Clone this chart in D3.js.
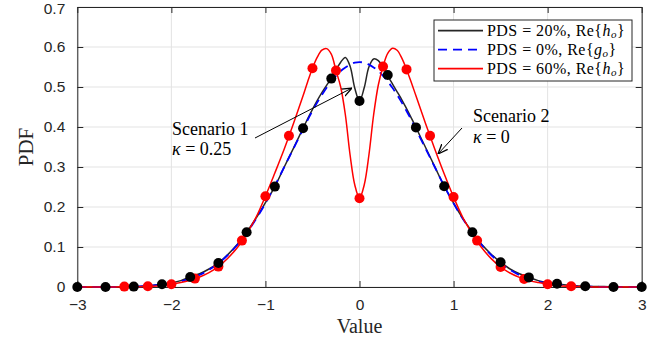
<!DOCTYPE html>
<html><head><meta charset="utf-8">
<script src="https://cdn.jsdelivr.net/npm/d3@7"></script>
<style>body{margin:0;background:#fff}</style>
</head><body>
<script>
// ---- data ----
const xGrid = [-3,-2.9,-2.8,-2.7,-2.6,-2.5,-2.4,-2.3,-2.2,-2.1,-2,-1.9,-1.8,-1.7,-1.6,-1.5,-1.4,-1.3,-1.2,-1.1,-1,-0.9,-0.8,-0.7,-0.6,
  -0.55,-0.5,-0.45,-0.4,-0.35,-0.3,-0.25,-0.2,-0.15,-0.1,-0.05,0,0.05,0.1,0.15,0.2,0.25,0.3,0.35,0.4,0.45,0.5,0.55,
  0.6,0.7,0.8,0.9,1,1.1,1.2,1.3,1.4,1.5,1.6,1.7,1.8,1.9,2,2.1,2.2,2.3,2.4,2.5,2.6,2.7,2.8,2.9,3];
const pds20 = [0,0,0,0,0,0.001,0.001,0.002,0.004,0.007,0.010,0.016,0.025,0.033,0.045,0.060,0.081,0.106,0.137,0.172,0.211,0.251,0.300,0.348,0.397,
  0.421,0.444,0.466,0.486,0.504,0.521,0.542,0.562,0.574,0.552,0.497,0.465,0.498,0.550,0.570,0.566,0.549,0.528,0.508,0.488,0.468,0.446,0.423,
  0.399,0.350,0.301,0.252,0.210,0.171,0.137,0.106,0.082,0.062,0.045,0.033,0.024,0.016,0.011,0.008,0.005,0.003,0.002,0.001,0.001,0,0,0,0];
const pds0 = [0,0,0,0,0,0.001,0.001,0.002,0.004,0.006,0.009,0.014,0.021,0.030,0.043,0.059,0.080,0.105,0.135,0.170,0.209,0.253,0.300,0.347,0.394,
  0.418,0.440,0.461,0.480,0.498,0.514,0.528,0.540,0.549,0.556,0.561,0.562,0.561,0.556,0.549,0.540,0.528,0.514,0.498,0.480,0.461,0.440,0.418,
  0.394,0.347,0.300,0.253,0.209,0.170,0.135,0.105,0.080,0.059,0.043,0.030,0.021,0.014,0.009,0.006,0.004,0.002,0.001,0.001,0,0,0,0,0];
const pds60 = [0,0,0,0,0,0.001,0.001,0.001,0.002,0.004,0.007,0.011,0.017,0.025,0.036,0.051,0.072,0.098,0.133,0.174,0.227,0.285,0.345,0.410,0.478,
  0.514,0.547,0.574,0.592,0.596,0.582,0.541,0.500,0.430,0.330,0.255,0.222,0.255,0.330,0.430,0.505,0.551,0.584,0.597,0.592,0.572,0.544,0.512,
  0.478,0.410,0.345,0.283,0.225,0.173,0.133,0.098,0.071,0.050,0.035,0.024,0.016,0.011,0.007,0.004,0.002,0.001,0.001,0,0,0,0,0,0];
const markX20 = [-3,-2.7,-2.4,-2.1,-1.8,-1.5,-1.2,-0.9,-0.6,-0.3,0,0.3,0.6,0.9,1.2,1.5,1.8,2.1,2.4,2.7,3];
const markY20 = [0,0,0.001,0.007,0.025,0.060,0.137,0.251,0.397,0.521,0.465,0.530,0.399,0.252,0.137,0.062,0.024,0.008,0.002,0,0];
const markX60 = [-2.5,-2.25,-2,-1.75,-1.5,-1.25,-1,-0.75,-0.5,-0.25,0,0.25,0.5,0.75,1,1.25,1.5,1.75,2,2.25];
const markY60 = [0.001,0.002,0.007,0.021,0.051,0.116,0.227,0.378,0.547,0.541,0.222,0.551,0.544,0.378,0.225,0.116,0.050,0.020,0.007,0.002];
const xTicks = [-3,-2,-1,0,1,2,3];
const yTicks = [0,0.1,0.2,0.3,0.4,0.5,0.6,0.7];

// ---- layout ----
const W = 669, H = 341;
const L = 77.3, R = 641.7, T = 7, B = 287;
const x = d3.scaleLinear().domain([-3,3]).range([L,R]);
const y = d3.scaleLinear().domain([0,0.7]).range([B,T]);
const axisCol = '#262626';

const svg = d3.select('body').append('svg').attr('width',W).attr('height',H)
  .style('font-family','"Liberation Sans", Arial, sans-serif');
svg.append('rect').attr('width',W).attr('height',H).attr('fill','#fff');

// grid
const grid = svg.append('g').attr('stroke','#e3e3e3').attr('stroke-width',1);
xTicks.forEach(t=>grid.append('line').attr('x1',x(t)).attr('x2',x(t)).attr('y1',T).attr('y2',B));
yTicks.forEach(t=>grid.append('line').attr('x1',L).attr('x2',R).attr('y1',y(t)).attr('y2',y(t)));

// axes
const fmtY = d=> d===0 ? '0' : d3.format('.1f')(d);
const axB = svg.append('g').attr('transform',`translate(0,${B})`)
  .call(d3.axisBottom(x).tickValues(xTicks).tickSizeInner(-6).tickSizeOuter(0).tickPadding(12).tickFormat(d3.format('d')));
const axL = svg.append('g').attr('transform',`translate(${L},0)`)
  .call(d3.axisLeft(y).tickValues(yTicks).tickSizeInner(-6).tickSizeOuter(0).tickPadding(12).tickFormat(fmtY));
const axT = svg.append('g').attr('transform',`translate(0,${T})`)
  .call(d3.axisTop(x).tickValues(xTicks).tickSizeInner(-6).tickSizeOuter(0).tickFormat(''));
const axR = svg.append('g').attr('transform',`translate(${R},0)`)
  .call(d3.axisRight(y).tickValues(yTicks).tickSizeInner(-6).tickSizeOuter(0).tickFormat(''));
[axB,axL,axT,axR].forEach(a=>{
  a.selectAll('path').attr('stroke',axisCol);
  a.selectAll('line').attr('stroke',axisCol);
  a.selectAll('text').attr('fill',axisCol).style('font-size','15.5px').style('font-family','"Liberation Sans", Arial, sans-serif');
});
axB.selectAll('text').attr('dy','0.71em');
axL.selectAll('text').filter(d=>d===0.7).attr('dy','0.4em');

// lines
const line = (ys)=> d3.line().x((d,i)=>x(xGrid[i])).y((d,i)=>y(ys[i])).curve(d3.curveCatmullRom.alpha(0.5))(ys);
const plot = svg.append('g');
plot.append('path').attr('d',line(pds20)).attr('fill','none').attr('stroke','#262626').attr('stroke-width',1.5);
plot.append('path').attr('d',line(pds0)).attr('fill','none').attr('stroke','#0000ff').attr('stroke-width',1.8).attr('stroke-dasharray','9,6');
plot.append('path').attr('d',line(pds60)).attr('fill','none').attr('stroke','#ff0000').attr('stroke-width',1.5);
plot.selectAll('.m60').data(markX60).enter().append('circle')
  .attr('cx',d=>x(d)).attr('cy',(d,i)=>y(markY60[i])).attr('r',5).attr('fill','#ff0000');
plot.selectAll('.m20').data(markX20).enter().append('circle')
  .attr('cx',d=>x(d)).attr('cy',(d,i)=>y(markY20[i])).attr('r',5).attr('fill','#000');

// axis labels
const serif = '"Liberation Serif", "DejaVu Serif", serif';
svg.append('text').attr('x',(L+R)/2).attr('y',333).attr('text-anchor','middle')
  .style('font-family',serif).style('font-size','20px').attr('fill',axisCol).text('Value');
svg.append('text').attr('transform',`translate(33,${(T+B)/2}) rotate(-90)`).attr('text-anchor','middle')
  .style('font-family',serif).style('font-size','21px').attr('fill',axisCol).text('PDF');

// annotations
const defs = svg.append('defs');
defs.append('marker').attr('id','ah').attr('viewBox','0 0 10 10').attr('refX',10).attr('refY',5)
  .attr('markerWidth',10).attr('markerHeight',10).attr('markerUnits','userSpaceOnUse').attr('orient','auto')
  .append('path').attr('d','M0,1 L10,5 L0,9').attr('fill','none').attr('stroke','#000').attr('stroke-width',1.3);
function ann(tx, ty1, ty2, line1, kval, ax1, ay1, ax2, ay2){
  svg.append('line').attr('x1',ax1).attr('y1',ay1).attr('x2',ax2).attr('y2',ay2)
    .attr('stroke','#000').attr('stroke-width',1).attr('marker-end','url(#ah)');
  svg.append('text').attr('x',tx).attr('y',ty1).style('font-family',serif).style('font-size','18px').text(line1);
  const t = svg.append('text').attr('x',tx).attr('y',ty2).style('font-family',serif).style('font-size','18px');
  t.append('tspan').style('font-style','italic').text('κ');
  t.append('tspan').text(' = ' + kval);
}
ann(172, 135, 155, 'Scenario 1', '0.25', 255, 138, 352, 88);
ann(473, 122, 143, 'Scenario 2', '0', 462, 128, 438, 154);

// legend
const legItems = [
  {pct:'20%', v:'h', col:'#262626', dash:null},
  {pct:'0%', v:'g', col:'#0000ff', dash:'9,6'},
  {pct:'60%', v:'h', col:'#ff0000', dash:null}
];
const lg = svg.append('g');
lg.append('rect').attr('x',434).attr('y',20).attr('width',198).attr('height',61)
  .attr('fill','#fff').attr('stroke',axisCol).attr('stroke-width',1);
legItems.forEach((d,i)=>{
  const cy = 30.7 + i*19;
  lg.append('line').attr('x1',438).attr('x2',483).attr('y1',cy).attr('y2',cy)
    .attr('stroke',d.col).attr('stroke-width',1.8).attr('stroke-dasharray',d.dash);
  const t = lg.append('text').attr('x',487).attr('y',cy+5).style('font-family',serif).style('font-size','16px')
    .style('letter-spacing','0.45px').attr('fill','#000');
  t.append('tspan').text('PDS = ' + d.pct + ', Re{');
  t.append('tspan').style('font-style','italic').text(d.v);
  t.append('tspan').style('font-style','italic').style('font-size','11px').attr('dy',2.5).text('o');
  t.append('tspan').attr('dy',-2.5).text('}');
});
</script>
</body></html>
